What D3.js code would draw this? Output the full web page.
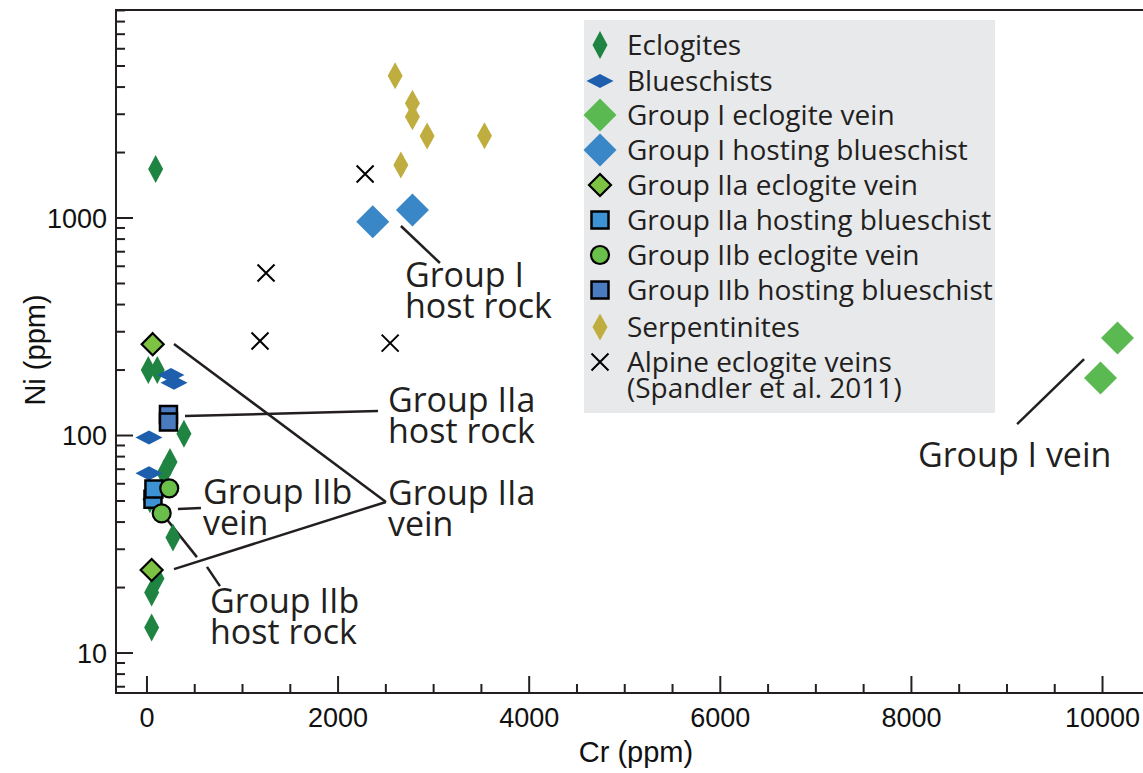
<!DOCTYPE html>
<html>
<head>
<meta charset="utf-8">
<script src="https://cdn.jsdelivr.net/npm/d3@7"></script>
<style>
  html, body { margin: 0; padding: 0; background: #fff; }
  svg { display: block; }
</style>
</head>
<body>
<svg id="chart" width="1143" height="773"></svg>
<script>
// Cr vs Ni (ppm) for eclogites, blueschists, veins and serpentinites
const eclogites = [[91,1680],[14,200],[108,200],[387,102],[241,75.5],[178,67],[31,51],[272,34],[105,22],[49,19],[49,13.1]];
const blueschists = [[21,98],[21,67],[251,190],[283,175]];
const serpentinites = [[2597,4510],[2778,3368],[2778,2922],[2932,2383],[3532,2390],[2657,1752]];
const alpineVeins = [[2283,1593],[1246,559],[1183,272],[2545,266]];
const groupIVein = [[10157,281],[9979,184]];
const groupIHost = [[2363,961],[2778,1088]];
const groupIIaVein = [[60,263],[49,24.1]];
const groupIIaHost = [[63,51],[73,56.8]];
const groupIIbHost = [[225,125],[225,115.4]];
const groupIIbVein = [[233,57.2],[154,43.9]];

const xMajorTicks = [0, 2000, 4000, 6000, 8000, 10000];
const yMajorTicks = [10, 100, 1000];

const legendLabels = [
  "Eclogites", "Blueschists", "Group I eclogite vein", "Group I hosting blueschist",
  "Group IIa eclogite vein", "Group IIa hosting blueschist", "Group IIb eclogite vein",
  "Group IIb hosting blueschist", "Serpentinites", "Alpine eclogite veins"
];

// leader lines, in data units [Cr, Ni]
const leaders = [
  [[2658,919],[3066,621]],
  [[398,123],[2418,129.6]],
  [[283,263.4],[2501,49.5]],
  [[283,24.3],[2501,49.5]],
  [[324,45.9],[565,46.4]],
  [[63,49.5],[523,27.6]],
  [[628,24.9],[764,20.3]],
  [[9807,224.7],[9106,112.9]]
];
const notes = [
  {at:[2700,481.6], lines:["Group I","host rock"]},
  {at:[2522,128.2], lines:["Group IIa","host rock"]},
  {at:[2522,47.9], lines:["Group IIa","vein"]},
  {at:[586,48.4], lines:["Group IIb","vein"]},
  {at:[659,15.3], lines:["Group IIb","host rock"]},
  {at:[8069,71.6], lines:["Group I vein"]}
];

(function draw() {
  const svg = d3.select("#chart");
  const pl = 116, pr = 1144, pt = 10, pb = 693;

  const x = d3.scaleLinear().domain([-324, 10434]).range([pl, pr]);
  const y = d3.scaleLog().domain([6.55, 9140]).range([pb, 9]);

  const ink = "#231f20";
  const sans = "'Liberation Sans', Arial, sans-serif";
  const human = "'Open Sans', 'Noto Sans', sans-serif";

  // frame
  svg.append("rect").attr("x", pl).attr("y", pt)
    .attr("width", pr - pl).attr("height", pb - pt)
    .attr("fill", "none").attr("stroke", ink).attr("stroke-width", 2);

  // y ticks (inward), majors and minors
  const yTicks = [];
  [1, 10, 100, 1000].forEach(d => { for (let k = 1; k <= 9; k++) yTicks.push(d * k); });
  yTicks.filter(v => v >= 7 && v <= 9000).forEach(v => {
    const major = yMajorTicks.includes(v);
    svg.append("line").attr("x1", pl).attr("x2", pl + (major ? 17 : 9))
      .attr("y1", y(v)).attr("y2", y(v)).attr("stroke", ink).attr("stroke-width", 2);
  });
  svg.append("g").selectAll("text").data(yMajorTicks).join("text")
    .attr("x", 107).attr("y", d => y(d)).attr("dy", "0.36em")
    .attr("text-anchor", "end").attr("font-family", sans).attr("font-size", 27)
    .attr("fill", "#111").text(d => d);

  // x ticks (inward)
  d3.range(0, 10001, 500).forEach(v => {
    const major = xMajorTicks.includes(v);
    svg.append("line").attr("x1", x(v)).attr("x2", x(v))
      .attr("y1", pb).attr("y2", pb - (major ? 17 : 9))
      .attr("stroke", ink).attr("stroke-width", 2);
  });
  svg.append("g").selectAll("text").data(xMajorTicks).join("text")
    .attr("x", d => x(d)).attr("y", 727)
    .attr("text-anchor", "middle").attr("font-family", sans).attr("font-size", 27)
    .attr("fill", "#111").text(d => d);

  // axis titles
  svg.append("text").attr("x", 636).attr("y", 762).attr("text-anchor", "middle")
    .attr("font-family", sans).attr("font-size", 29).attr("fill", "#111").text("Cr (ppm)");
  svg.append("text").attr("transform", "translate(45,350) rotate(-90)")
    .attr("text-anchor", "middle").attr("font-family", sans).attr("font-size", 29)
    .attr("fill", "#111").text("Ni (ppm)");

  // legend background
  svg.append("rect").attr("x", 584).attr("y", 20).attr("width", 411).attr("height", 393)
    .attr("fill", "#e8e9eb");

  // shape helpers
  const rhomb = (w, h) => `M0,${-h/2}L${w/2},0L0,${h/2}L${-w/2},0Z`;
  const styles = {
    ecl:  {path: rhomb(15, 28), fill: "#1f8442"},
    blue: {path: rhomb(27, 14), fill: "#1d5fad"},
    gIv:  {path: rhomb(33, 33), fill: "#5bb951"},
    gIh:  {path: rhomb(33, 33), fill: "#3a87c8"},
    gIIav:{path: rhomb(22, 22), fill: "#7dc242", stroke: "#000", sw: 2.2},
    gIIah:{path: "M-8.5,-8.5H8.5V8.5H-8.5Z", fill: "#3d92d3", stroke: "#000", sw: 2.5},
    gIIbv:{circle: 9, fill: "#6abf4b", stroke: "#000", sw: 2.2},
    gIIbh:{path: "M-8.5,-8.5H8.5V8.5H-8.5Z", fill: "#4b7bbf", stroke: "#000", sw: 2.5},
    serp: {path: rhomb(15, 27), fill: "#bfae3f"},
    alp:  {path: "M-8.5,-8.5L8.5,8.5M8.5,-8.5L-8.5,8.5", fill: "none", stroke: "#000", sw: 2}
  };

  function drawMark(g, st, cx, cy) {
    if (st.circle) {
      g.append("circle").attr("cx", cx).attr("cy", cy).attr("r", st.circle)
        .attr("fill", st.fill).attr("stroke", st.stroke || "none").attr("stroke-width", st.sw || 0);
    } else {
      g.append("path").attr("d", st.path).attr("transform", `translate(${cx},${cy})`)
        .attr("fill", st.fill).attr("stroke", st.stroke || "none").attr("stroke-width", st.sw || 0);
    }
  }

  // legend entries
  const legendKeys = ["ecl","blue","gIv","gIh","gIIav","gIIah","gIIbv","gIIbh","serp","alp"];
  const legendRows = [45, 81, 115, 150, 185, 220, 255, 290, 327, 362];
  const lg = svg.append("g");
  legendKeys.forEach((k, i) => {
    drawMark(lg, styles[k], 600, legendRows[i]);
    lg.append("text").attr("x", 627).attr("y", legendRows[i] + 10)
      .attr("font-family", human).attr("font-size", 28).attr("fill", ink)
      .text(legendLabels[i]);
  });
  lg.append("text").attr("x", 627).attr("y", 398).attr("font-family", human)
    .attr("font-size", 28).attr("fill", ink).text("(Spandler et al. 2011)");

  // annotation leader lines
  const ag = svg.append("g");
  leaders.forEach(seg => {
    ag.append("line").attr("x1", x(seg[0][0])).attr("y1", y(seg[0][1]))
      .attr("x2", x(seg[1][0])).attr("y2", y(seg[1][1]))
      .attr("stroke", ink).attr("stroke-width", 2.5);
  });

  // data marks
  const series = [
    [eclogites, "ecl"], [blueschists, "blue"], [serpentinites, "serp"], [alpineVeins, "alp"],
    [groupIVein, "gIv"], [groupIHost, "gIh"], [groupIIaVein, "gIIav"],
    [groupIIbHost, "gIIbh"], [groupIIaHost, "gIIah"], [groupIIbVein, "gIIbv"]
  ];
  const mg = svg.append("g");
  series.forEach(([pts, key]) => pts.forEach(p => drawMark(mg, styles[key], x(p[0]), y(p[1]))));

  // annotation labels
  notes.forEach(n => {
    const t = svg.append("text").attr("x", x(n.at[0])).attr("y", y(n.at[1]))
      .attr("font-family", human).attr("font-size", 34).attr("fill", ink);
    n.lines.forEach((s, i) => t.append("tspan").attr("x", x(n.at[0])).attr("dy", i ? 31 : 0).text(s));
  });
})();
</script>
</body>
</html>
